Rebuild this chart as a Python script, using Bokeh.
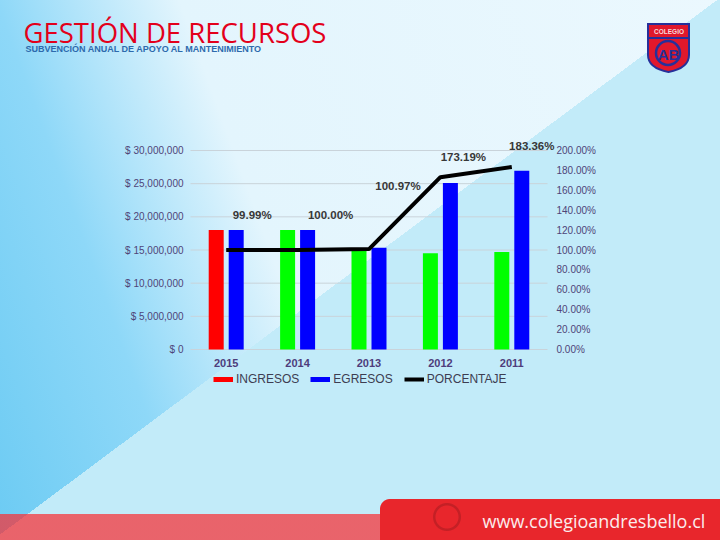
from bokeh.plotting import figure
from bokeh.models import (ColumnDataSource, Range1d, Legend, LegendItem, LabelSet, Label)
from bokeh.transform import dodge
from bokeh.core.properties import value
from bokeh.embed import file_html
from bokeh.resources import INLINE

# ---------------- data ----------------
years = ["2015", "2014", "2013", "2012", "2011"]
ingresos = [18000000, 18000000, 15200000, 14500000, 14700000]
egresos = [17998000, 18000000, 15347000, 25113000, 26954000]
porcentaje = [99.99, 100.00, 100.97, 173.19, 183.36]
pct_labels = ["99.99%", "100.00%", "100.97%", "173.19%", "183.36%"]
money_ticks = [0, 5000000, 10000000, 15000000, 20000000, 25000000, 30000000]
pct_ticks = [0, 20, 40, 60, 80, 100, 120, 140, 160, 180, 200]
series_names = ["INGRESOS", "EGRESOS", "PORCENTAJE"]
title_text = "GESTIÓN DE RECURSOS"
subtitle_text = "SUBVENCIÓN ANUAL DE APOYO AL MANTENIMIENTO"
footer_text = "www.colegioandresbello.cl"
logo_text = "COLEGIO"
logo_mono = "AB"

# ---------------- styles / layout ----------------
ing_colors = ["#ff0000", "#00ff00", "#00ff00", "#00ff00", "#00ff00"]
egr_color = "#0000ff"
label_dx = [26, 33, 29, 23, 20]
label_dy = [35, 35, 63, 20, 21]
tick_color = "#4f4478"
FONT = "Liberation Sans"

W, H = 720, 540
CL, CR = 190, 547          # chart (category area) left/right, page px
CB, CT = 349, 150          # y of $0 / 0% and of $30M / 200%, page px

n = len(years)
step = (CR - CL) / n
x_start = -0.5 - CL / step
x_end = n - 0.5 + (W - CR) / step
m_ppu = (CB - CT) / money_ticks[-1]
p_ppu = (CB - CT) / pct_ticks[-1]

xi = list(range(n))
src = ColumnDataSource(dict(xi=xi, year=years, ingresos=ingresos, egresos=egresos,
                            pct=porcentaje, pct_label=pct_labels,
                            ing_color=ing_colors, dx=label_dx, dy=label_dy,
                            base=[0] * n))

p = figure(width=W, height=H, x_range=Range1d(x_start, x_end),
           y_range=Range1d(-(H - CB) / m_ppu, CB / m_ppu),
           x_axis_type=None, y_axis_type=None, min_border=0,
           output_backend="svg", toolbar_location=None)
p.title_location = None
p.background_fill_alpha = 0
p.border_fill_alpha = 0
p.outline_line_color = None
p.extra_y_ranges = {"pct": Range1d(-(H - CB) / p_ppu, CB / p_ppu), "py": Range1d(H, 0)}
p.extra_x_ranges = {"px": Range1d(0, W)}

logo_svg = ("<svg xmlns='http://www.w3.org/2000/svg' width='46' height='52'>"
            "<path d='M2,2 H43 V33 Q43,46 22.5,50 Q2,46 2,33 Z' fill='%23e1182c' stroke='%2326309a' stroke-width='2'/>"
            "<path d='M2,16 H43' stroke='%2326309a' stroke-width='2'/>"
            "<circle cx='22' cy='31' r='12' fill='none' stroke='%2326309a' stroke-width='2.5'/>"
            "</svg>")
css_bg = ", ".join([
    f"url(\"data:image/svg+xml;utf8,{logo_svg}\") 646px 22px / 46px 52px no-repeat",
    "radial-gradient(circle, transparent 11px, rgba(130,20,25,0.35) 12px, rgba(130,20,25,0.35) 13.5px, transparent 14.5px) 432px 502px / 30px 30px no-repeat",
    "radial-gradient(circle at 10px 10px, #e8262c 9.5px, transparent 10.5px) 380px 499px / 10px 10px no-repeat",
    "linear-gradient(#e8262c, #e8262c) 390px 499px / 330px 10px no-repeat",
    "linear-gradient(#e8262c, #e8262c) 380px 509px / 340px 31px no-repeat",
    "linear-gradient(rgba(248,47,52,0.72), rgba(248,47,52,0.72)) 0px 514px / 100% 26px no-repeat",
    "linear-gradient(143.3deg, transparent 49.65%, #c2ebf9 49.65%)",
    "linear-gradient(70deg, #6ccbf3 0%, #8ed8f8 21%, #e3f5fd 41%, #ebf8fe 100%)",
])
p.styles = {"background": css_bg}

# ---------------- gridlines & tick labels (from the tick lists) ----------------
grid_src = ColumnDataSource(dict(y=money_ticks, x0=[-0.5] * len(money_ticks),
                                 x1=[n - 0.5] * len(money_ticks),
                                 label=["$ {:,}".format(t) for t in money_ticks]))
p.segment(x0="x0", x1="x1", y0="y", y1="y", source=grid_src,
          line_color="#c9d3da", line_width=1)
p.add_layout(LabelSet(x="x0", y="y", text="label", source=grid_src, x_offset=-7,
                      text_align="right", text_baseline="middle",
                      text_font=value(FONT), text_font_size="10px", text_color=tick_color))

pct_src = ColumnDataSource(dict(y=pct_ticks, x=[n - 0.5] * len(pct_ticks),
                                label=["{:.2f}%".format(t) for t in pct_ticks]))
p.add_layout(LabelSet(x="x", y="y", y_range_name="pct", text="label", source=pct_src,
                      x_offset=9, text_align="left", text_baseline="middle",
                      text_font=value(FONT), text_font_size="10px", text_color=tick_color))

p.add_layout(LabelSet(x="xi", y="base", text="year", source=src, y_offset=-13,
                      text_align="center", text_baseline="middle",
                      text_font=value(FONT), text_font_size="11px", text_font_style="bold",
                      text_color="#4e3d7c"))

# ---------------- bars & line ----------------
p.vbar(x=dodge("xi", -0.14), top="ingresos", width=0.21, source=src,
       fill_color="ing_color", line_color=None)
p.vbar(x=dodge("xi", 0.14), top="egresos", width=0.21, source=src,
       fill_color=egr_color, line_color=None)
pct_line = p.line(x="xi", y="pct", y_range_name="pct", source=src,
                  line_color="black", line_width=4)

p.add_layout(LabelSet(x="xi", y="pct", y_range_name="pct", text="pct_label", source=src,
                      x_offset="dx", y_offset="dy", text_align="center", text_baseline="middle",
                      text_font=value(FONT), text_font_size="11.5px", text_font_style="bold",
                      text_color="#383838"))

# ---------------- legend ----------------
nan = float("nan")
ing_leg = p.line(x=[nan], y=[nan], line_color=ing_colors[0], line_width=5)
egr_leg = p.line(x=[nan], y=[nan], line_color=egr_color, line_width=5)
legend = Legend(items=[LegendItem(label=series_names[0], renderers=[ing_leg]),
                       LegendItem(label=series_names[1], renderers=[egr_leg]),
                       LegendItem(label=series_names[2], renderers=[pct_line])],
                orientation="horizontal", location=(213, H - 386),
                glyph_width=20, glyph_height=14, label_height=14, label_standoff=3,
                spacing=11, padding=0, margin=0, border_line_color=None,
                background_fill_alpha=0, label_text_font=FONT,
                label_text_font_size="12px", label_text_color="#3d3d52")
p.add_layout(legend)

# ---------------- titles, logo text, footer (page-pixel positions) ----------------
def page_label(px, py, **kw):
    return Label(x=px, y=py, x_range_name="px", y_range_name="py", **kw)


p.add_layout(page_label(23, 32, text=title_text, text_font="Open Sans",
                        text_font_size="27.5px", text_color="#e3001b",
                        text_baseline="alphabetic"))
p.add_layout(page_label(25, 48, text=subtitle_text, text_font=FONT,
                        text_font_size="9px", text_font_style="bold", text_color="#2d6aad",
                        text_baseline="alphabetic"))
p.add_layout(page_label(668.5, 31, text=logo_text, text_font=FONT,
                        text_font_size="6.5px", text_font_style="bold", text_color="#f6d8dc",
                        text_align="center", text_baseline="middle"))
p.add_layout(page_label(668, 53.5, text=logo_mono, text_font=FONT,
                        text_font_size="15px", text_font_style="bold", text_color="#26309a",
                        text_align="center", text_baseline="middle"))
p.add_layout(page_label(482, 520, text=footer_text, text_font="Open Sans",
                        text_font_size="18px", text_color="#fbecec",
                        text_baseline="middle"))

open("out.html", "w").write(file_html(p, INLINE))
